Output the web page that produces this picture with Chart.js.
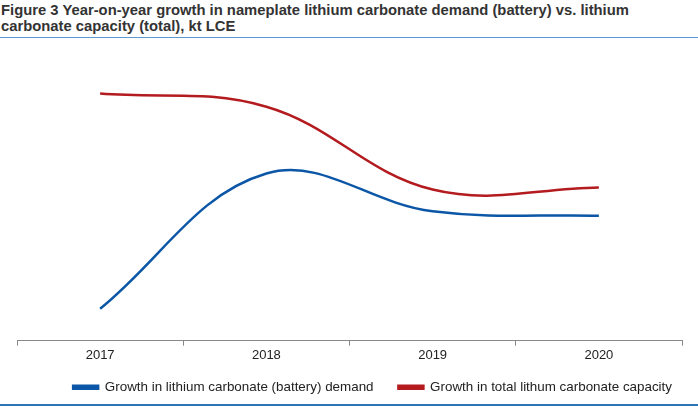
<!DOCTYPE html>
<html>
<head>
<meta charset="utf-8">
<script src="https://cdn.jsdelivr.net/npm/chart.js@4"></script>
<style>
  html, body { margin: 0; padding: 0; background: #fff; }
  body { width: 698px; height: 409px; overflow: hidden; font-family: "Liberation Sans", Arial, sans-serif; }
  .title {
    height: 38px; box-sizing: border-box; padding: 2px 0 0 1px;
    border-bottom: 1.5px solid #5b9bd5;
    font-weight: bold; font-size: 14.8px; line-height: 16px; color: #333;
    white-space: nowrap;
  }
  .wrap { position: relative; width: 698px; height: 366px; border-bottom: 2px solid #2e75b6; }
</style>
</head>
<body>
<div class="title">Figure 3 Year-on-year growth in nameplate lithium carbonate demand (battery) vs. lithium<br>carbonate capacity (total), kt LCE</div>
<div class="wrap"><canvas id="chart"></canvas></div>
<script>
const years = ["2017", "2018", "2019", "2020"];
// no y labels in the original (relative scale)
const batteryDemand = [11, 57.5, 44.5, 43];
const totalCapacity = [85, 80.5, 52, 52.7];

const ctx = document.getElementById("chart").getContext("2d");
new Chart(ctx, {
  type: "line",
  data: {
    labels: years,
    datasets: [{
      // trailing spaces widen the gap between the two legend items
      label: "Growth in lithium carbonate (battery) demand    ",
      data: batteryDemand,
      borderColor: "#0b56a6",
      backgroundColor: "#0b56a6",
      borderWidth: 2.5,
      pointRadius: 0,
      tension: 0.38
    }, {
      label: "Growth in total lithum carbonate capacity",
      data: totalCapacity,
      borderColor: "#b31b1f",
      backgroundColor: "#b31b1f",
      borderWidth: 2.5,
      pointRadius: 0,
      tension: 0.38
    }]
  },
  options: {
    responsive: true,
    maintainAspectRatio: false,
    animation: false,
    layout: { padding: { left: 17, right: 16, top: 12, bottom: 0 } },
    scales: {
      x: {
        offset: true,
        grid: { offset: true, drawOnChartArea: false, drawTicks: true, tickLength: 5, color: "#888" },
        border: { display: true, color: "#888" },
        ticks: { color: "#222", font: { family: "Liberation Sans", size: 13 }, padding: 2 },
        afterFit(scale) { scale.height += 5.3; }
      },
      y: { display: false, min: 0, max: 100 }
    },
    plugins: {
      legend: {
        position: "bottom",
        align: "end",
        labels: {
          boxWidth: 25, boxHeight: 3, color: "#222", padding: 10,
          font: { family: "Liberation Sans", size: 13.4 }
        }
      },
      tooltip: { enabled: false }
    }
  }
});
</script>
</body>
</html>
